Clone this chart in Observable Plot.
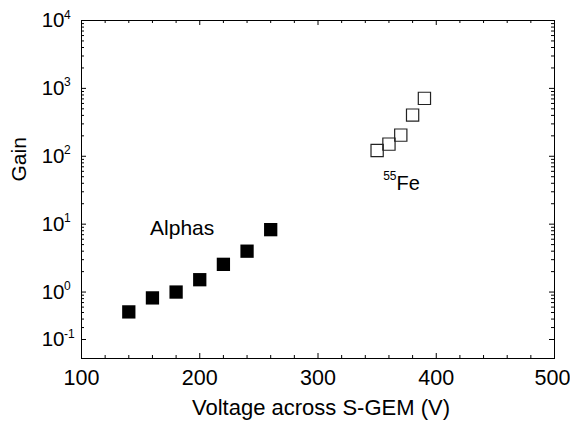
<!DOCTYPE html>
<html><head><meta charset="utf-8">
<script src="https://cdn.jsdelivr.net/npm/d3@7"></script>
<script src="https://cdn.jsdelivr.net/npm/@observablehq/plot@0.6"></script>
<style>
body{margin:0;background:#fff}
svg{font-family:"Liberation Sans",Arial,sans-serif}
</style>
</head><body><div id="chart"></div>
<script>
// Data
const alphaVoltage = [140, 160, 180, 200, 220, 240, 260];
const alphaGain = [0.51, 0.82, 1.0, 1.52, 2.56, 4.0, 8.3];
const feVoltage = [350, 360, 370, 380, 390];
const feGain = [122, 151, 205, 404, 713];

// Axis ticks and labels
const xTicks = [100, 200, 300, 400, 500];
const xTickLabels = ["100", "200", "300", "400", "500"];
const xMinorTicks = [120, 140, 160, 180, 220, 240, 260, 280, 320, 340, 360, 380, 420, 440, 460, 480];
const yTicks = [0.2, 1, 10, 100, 1000, 10000];
const yTickExponents = ["-1", "0", "1", "2", "3", "4"];
const yMinorTicks = [0.3, 0.4, 0.5, 0.6, 0.7, 0.8, 0.9,
  2, 3, 4, 5, 6, 7, 8, 9,
  20, 30, 40, 50, 60, 70, 80, 90,
  200, 300, 400, 500, 600, 700, 800, 900,
  2000, 3000, 4000, 5000, 6000, 7000, 8000, 9000];
const xLabel = "Voltage across S-GEM (V)";
const yLabel = "Gain";
const alphaLabel = "Alphas";
const feLabel = "Fe";
const feMass = "55";

const alphas = alphaVoltage.map((v, i) => ({v, g: alphaGain[i]}));
const fe = feVoltage.map((v, i) => ({v, g: feGain[i]}));
const yt = yTicks.map((t, i) => ({t, e: yTickExponents[i]}));
const xt = xTicks.map((t, i) => ({t, s: xTickLabels[i]}));
const xtInner = xt.slice(0, -1);
const xtLast = xt.slice(-1);

const W = 570, H = 423, mL = 81, mR = 16, mT = 20, mB = 65;
const pW = W - mL - mR, pH = H - mT - mB;

const chart = Plot.plot({
  width: W, height: H,
  marginLeft: mL, marginRight: mR, marginTop: mT, marginBottom: mB,
  style: {background: "#fff", color: "black", fontFamily: "Liberation Sans, Arial, sans-serif"},
  x: {domain: [100, 500], axis: null},
  y: {type: "log", domain: [0.105, 10000], axis: null},
  marks: [
    Plot.frame({stroke: "black", strokeWidth: 1}),
    // bottom & top x ticks (inward)
    Plot.tickX(xTicks, {x: d => d, insetTop: pH - 5, stroke: "black"}),
    Plot.tickX(xTicks, {x: d => d, insetBottom: pH - 5, stroke: "black"}),
    Plot.tickX(xMinorTicks, {x: d => d, insetTop: pH - 3, stroke: "black"}),
    Plot.tickX(xMinorTicks, {x: d => d, insetBottom: pH - 3, stroke: "black"}),
    // left & right y ticks (inward)
    Plot.tickY(yTicks, {y: d => d, insetRight: pW - 5, stroke: "black"}),
    Plot.tickY(yTicks, {y: d => d, insetLeft: pW - 5, stroke: "black"}),
    Plot.tickY(yMinorTicks, {y: d => d, insetRight: pW - 3, stroke: "black"}),
    Plot.tickY(yMinorTicks, {y: d => d, insetLeft: pW - 3, stroke: "black"}),
    // x tick labels
    Plot.text(xtInner, {x: "t", text: "s", frameAnchor: "bottom", dy: 26, lineAnchor: "bottom", fontSize: 21.5, fill: "black"}),
    Plot.text(xtLast, {x: "t", text: "s", frameAnchor: "bottom", dy: 26, dx: -2, lineAnchor: "bottom", fontSize: 21.5, fill: "black"}),
    // y tick labels: base and exponent
    Plot.text(yt, {y: "t", text: () => "10", frameAnchor: "left", textAnchor: "end", dx: -17, lineAnchor: "middle", fontSize: 20.5, fill: "black"}),
    Plot.text(yt, {y: "t", text: "e", frameAnchor: "left", textAnchor: "start", dx: -17.5, dy: -2, lineAnchor: "bottom", fontSize: 12, fill: "black"}),
    // axis labels
    Plot.text([xLabel], {text: d => d, frameAnchor: "bottom", dy: 56, dx: 3, lineAnchor: "bottom", fontSize: 22, fill: "black"}),
    Plot.text([yLabel], {text: d => d, frameAnchor: "left", rotate: -90, dx: -56, dy: -8, lineAnchor: "bottom", fontSize: 21, fill: "black"}),
    // data
    Plot.dot(alphas, {x: "v", y: "g", symbol: "square", r: 7.5, fill: "black", stroke: "none"}),
    Plot.dot(fe, {x: "v", y: "g", symbol: "square", r: 6.9, fill: "none", stroke: "#222", strokeWidth: 1.2}),
    // annotations
    Plot.text([alphaLabel], {x: () => 158, y: () => 6.82, text: d => d, textAnchor: "start", lineAnchor: "bottom", fontSize: 21, fill: "black"}),
    Plot.text([feLabel], {x: () => 366.4, y: () => 32.1, text: d => d, textAnchor: "start", lineAnchor: "bottom", fontSize: 20, fill: "black"}),
    Plot.text([feMass], {x: () => 366.4, y: () => 32.1, text: d => d, textAnchor: "end", dy: -9.5, lineAnchor: "bottom", fontSize: 12, fill: "black"})
  ]
});
document.getElementById("chart").appendChild(chart);
</script>
</body></html>
